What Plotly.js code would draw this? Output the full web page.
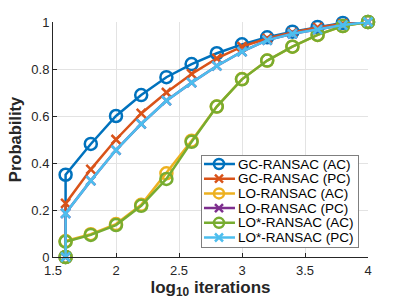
<!DOCTYPE html>
<html><head><meta charset="utf-8">
<script src="https://cdn.plot.ly/plotly-3.0.1.min.js"></script>
<style>html,body{margin:0;padding:0;background:#fff}#c{width:407px;height:305px}</style>
</head><body><div id="c"></div>
<script>
const xs = [1.6, 1.6, 1.8, 2.0, 2.2, 2.4, 2.6, 2.8, 3.0, 3.2, 3.4, 3.6, 3.8, 4.0];
const names = ["GC-RANSAC (AC)", "GC-RANSAC (PC)", "LO-RANSAC (AC)", "LO-RANSAC (PC)", "LO*-RANSAC (AC)", "LO*-RANSAC (PC)"];
const gcAC  = [0, 0.35, 0.481, 0.600, 0.689, 0.765, 0.821, 0.867, 0.905, 0.935, 0.959, 0.979, 0.996, 1.0];
const gcPC  = [0, 0.228, 0.373, 0.500, 0.611, 0.700, 0.779, 0.845, 0.895, 0.930, 0.955, 0.977, 0.993, 1.0];
const loAC  = [0, 0.068, 0.097, 0.140, 0.222, 0.356, 0.495, 0.640, 0.757, 0.836, 0.895, 0.945, 0.983, 1.0];
const loPC  = [0, 0.186, 0.325, 0.455, 0.566, 0.665, 0.742, 0.813, 0.874, 0.923, 0.950, 0.968, 0.987, 1.0];
const lsAC  = [0, 0.065, 0.094, 0.136, 0.218, 0.332, 0.490, 0.640, 0.756, 0.836, 0.895, 0.945, 0.983, 1.0];
const lsPC  = [0, 0.186, 0.325, 0.455, 0.566, 0.665, 0.742, 0.813, 0.874, 0.923, 0.950, 0.968, 0.987, 1.0];
const xTicks = [1.5, 2, 2.5, 3, 3.5, 4];
const yTicks = [0, 0.2, 0.4, 0.6, 0.8, 1];
const yTickText = ["0", "0.2", "0.4", "0.6", "0.8", "1"];

const colors = ["#0072BD", "#D95319", "#EDB120", "#7E2F8E", "#77AC30", "#4DBEEE"];
const series = [gcAC, gcPC, loAC, loPC, lsAC, lsPC];
const symbols = ["circle-open", "x-thin-open", "circle-open", "x-thin-open", "circle-open", "x-thin-open"];

const traces = series.map((ys, i) => ({
  x: xs, y: ys, name: names[i], type: "scatter", mode: "lines+markers",
  line: {color: colors[i], width: 2.5},
  marker: {symbol: symbols[i], size: symbols[i] === "circle-open" ? 12 : 9,
           color: colors[i], line: {color: colors[i], width: 2.5}},
  cliponaxis: false, showlegend: false, xaxis: "x", yaxis: "y"
}));

// Compact legend box (MATLAB style) drawn as a small inset subplot
const LW = 156, ROWS = names.length;
const rowY = i => i + 0.565;
names.forEach((n, i) => {
  traces.push({
    x: [2, 17, 33], y: [rowY(i), rowY(i), rowY(i)], type: "scatter", mode: "lines+markers",
    xaxis: "x2", yaxis: "y2", showlegend: false, hoverinfo: "skip",
    line: {color: colors[i], width: 2.5},
    marker: {symbol: symbols[i], size: symbols[i] === "circle-open" ? 10 : 8,
             opacity: [0, 1, 0], color: colors[i], line: {color: colors[i], width: 2.5}}
  });
});
const annotations = names.map((n, i) => ({
  xref: "x2", yref: "y2", x: 34, y: rowY(i), xanchor: "left", yanchor: "middle",
  text: n, showarrow: false, font: {size: 13.5, color: "#000"}
}));

const axCol = "#262626";
const layout = {
  width: 407, height: 305,
  margin: {l: 53, r: 39, t: 22, b: 48},
  paper_bgcolor: "#fff", plot_bgcolor: "#fff",
  font: {family: "Liberation Sans, Arial, sans-serif", size: 13, color: axCol},
  showlegend: false,
  annotations: annotations,
  xaxis: {range: [1.5, 4], tickvals: xTicks, ticktext: xTicks.map(String),
          showgrid: true, gridcolor: "#e3e3e3", zeroline: false,
          showline: true, linecolor: axCol, linewidth: 1, mirror: false,
          ticks: "inside", ticklen: 4, tickcolor: axCol, ticklabelstandoff: 1,
          tickfont: {size: 13, color: axCol},
          title: {text: "<b>log<sub>10</sub> iterations</b>", font: {size: 17, color: axCol}, standoff: 3}},
  yaxis: {range: [0, 1], tickvals: yTicks, ticktext: yTickText,
          showgrid: true, gridcolor: "#e3e3e3", zeroline: false,
          showline: true, linecolor: axCol, linewidth: 1, mirror: false,
          ticks: "inside", ticklen: 4, tickcolor: axCol,
          tickfont: {size: 13, color: axCol},
          title: {text: "<b>Probability</b>", font: {size: 16.5, color: axCol}, standoff: 5}},
  xaxis2: {domain: [0.473, 0.968], anchor: "y2", range: [0, LW],
           showgrid: false, zeroline: false, showticklabels: false, ticks: "",
           showline: true, mirror: true, linecolor: "#7f7f7f", linewidth: 1, fixedrange: true},
  yaxis2: {domain: [0.0426, 0.431], anchor: "x2", range: [ROWS + 0.21, 0],
           showgrid: false, zeroline: false, showticklabels: false, ticks: "",
           showline: true, mirror: true, linecolor: "#7f7f7f", linewidth: 1, fixedrange: true}
};
Plotly.newPlot("c", traces, layout, {displayModeBar: false, staticPlot: true});
</script></body></html>
